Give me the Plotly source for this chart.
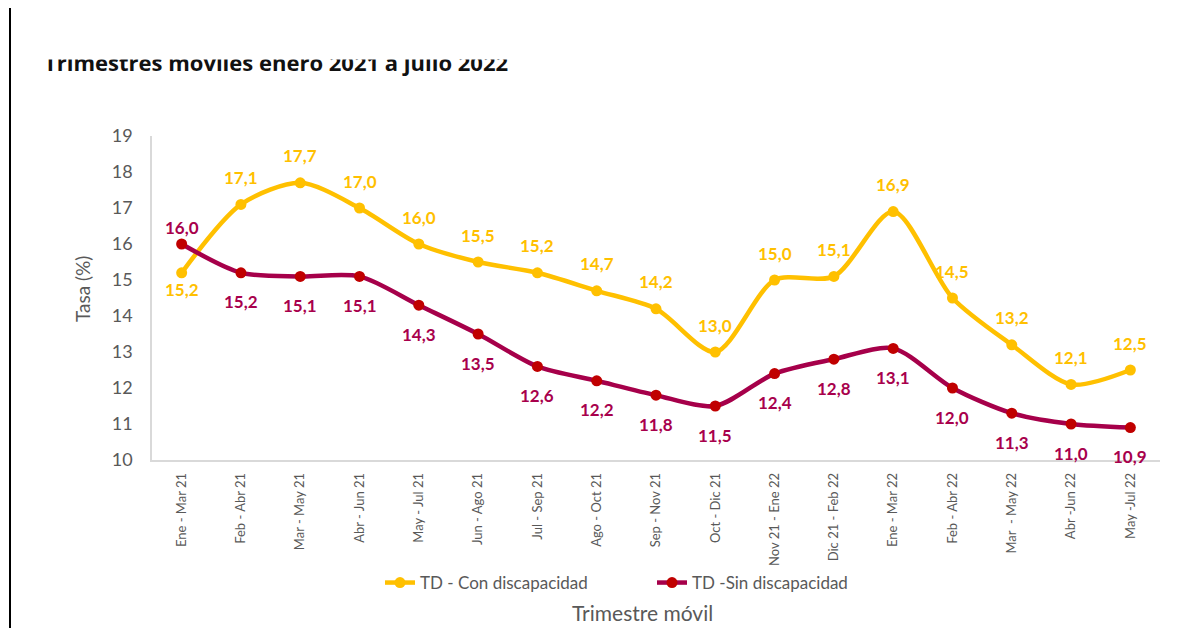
import plotly.graph_objects as go

categories = ["Ene - Mar 21", "Feb - Abr 21", "Mar - May 21", "Abr - Jun 21", "May - Jul 21",
              "Jun - Ago 21", "Jul - Sep 21", "Ago - Oct 21", "Sep - Nov 21", "Oct - Dic 21",
              "Nov 21 - Ene 22", "Dic 21 - Feb 22", "Ene - Mar 22", "Feb - Abr 22",
              "Mar  - May 22", "Abr -Jun 22", "May -Jul 22"]
con_disc = [15.2, 17.1, 17.7, 17.0, 16.0, 15.5, 15.2, 14.7, 14.2, 13.0, 15.0, 15.1, 16.9, 14.5, 13.2, 12.1, 12.5]
sin_disc = [16.0, 15.2, 15.1, 15.1, 14.3, 13.5, 12.6, 12.2, 11.8, 11.5, 12.4, 12.8, 13.1, 12.0, 11.3, 11.0, 10.9]
y_ticks = [10, 11, 12, 13, 14, 15, 16, 17, 18, 19]

YEL = "#FFC000"
RED_LINE = "#A6004A"
RED_MARK = "#C00000"
RED_TXT = "#A8004C"
GRAY = "#595959"
FONT = "Lato"

def fmt(v):
    return f"{v:.1f}".replace(".", ",")

fig = go.Figure()
fig.add_trace(go.Scatter(x=categories, y=con_disc, mode="lines+markers", name="TD - Con discapacidad",
                         line=dict(color=YEL, width=4.5, shape="spline", smoothing=0.8),
                         marker=dict(color=YEL, size=11)))
fig.add_trace(go.Scatter(x=categories, y=sin_disc, mode="lines+markers", name="TD -Sin discapacidad",
                         line=dict(color=RED_LINE, width=4.5, shape="spline", smoothing=0.8),
                         marker=dict(color=RED_MARK, size=11)))

annotations = []
for i, (c, a, b) in enumerate(zip(categories, con_disc, sin_disc)):
    above_a = a >= b
    annotations.append(dict(x=c, y=a, xref="x", yref="y", text=fmt(a), showarrow=False,
                            yshift=27 if above_a else -17,
                            font=dict(family=FONT, size=17, color=YEL, weight="bold")))
    annotations.append(dict(x=c, y=b, xref="x", yref="y", text=fmt(b), showarrow=False,
                            yshift=-29 if above_a else 17,
                            font=dict(family=FONT, size=17, color=RED_TXT, weight="bold")))

# axis titles
annotations.append(dict(x=(642 - 152) / 1008, y=(460 - 612) / 324, xref="paper", yref="paper",
                        text="Trimestre móvil", showarrow=False,
                        font=dict(family=FONT, size=21, color=GRAY),
                        xanchor="center", yanchor="middle"))
annotations.append(dict(x=(82 - 152) / 1008, y=(460 - 289) / 324, xref="paper", yref="paper",
                        text="Tasa (%)", showarrow=False, textangle=-90,
                        font=dict(family=FONT, size=19, color=GRAY),
                        xanchor="center", yanchor="middle"))
# title (clipped at top like the reference)
annotations.append(dict(x=(42 - 152) / 1008, y=(460 - 72) / 324, xref="paper", yref="paper",
                        text="Trimestres móviles enero 2021 a julio 2022", showarrow=False,
                        xanchor="left", yanchor="bottom", yshift=-7,
                        font=dict(family="Open Sans", size=22, color="#111111", weight="bold")))
annotations.append(dict(x=(14 - 152) / 1008, y=(460 - 60) / 324, xref="paper", yref="paper",
                        text=" ", showarrow=False, xanchor="left", yanchor="bottom",
                        width=900, height=60, bgcolor="white", borderpad=0))

fig.update_layout(
    width=1200, height=628,
    margin=dict(l=152, r=40, t=136, b=168),
    paper_bgcolor="white", plot_bgcolor="white",
    font=dict(family=FONT, color=GRAY),
    showlegend=True,
    legend=dict(orientation="h", x=(380 - 152) / 1008, y=(460 - 583) / 324, xanchor="left", yanchor="middle",
                font=dict(family=FONT, size=17, color=GRAY),
                entrywidth=227, entrywidthmode="pixels"),
    annotations=annotations,
    shapes=[dict(type="line", xref="paper", yref="paper", x0=(10 - 152) / 1008, x1=(10 - 152) / 1008,
                 y0=-0.6, y1=(460 - 8) / 324, line=dict(color="black", width=2))],
)
fig.update_xaxes(type="category", range=[-0.5, len(categories) - 0.5], showline=True,
                 linecolor="#D9D9D9", linewidth=1.5,
                 showgrid=False, tickangle=-90, ticks="outside", ticklen=6, tickcolor="rgba(0,0,0,0)",
                 tickfont=dict(family=FONT, size=13, color=GRAY), zeroline=False)
fig.update_yaxes(range=[10, 19], tickvals=y_ticks, showline=True, linecolor="#D9D9D9", linewidth=1.5,
                 showgrid=False, zeroline=False, ticks="outside", ticklen=14, tickcolor="rgba(0,0,0,0)",
                 tickfont=dict(family=FONT, size=18, color=GRAY))

fig.write_html("out.html")
